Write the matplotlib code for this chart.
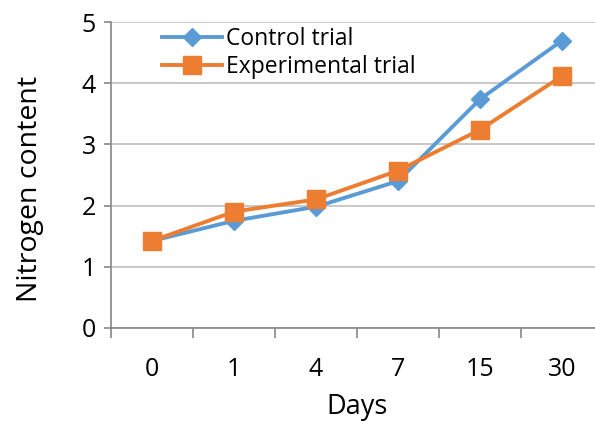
import numpy as np
import matplotlib.pyplot as plt

# data
days = ['0', '1', '4', '7', '15', '30']
control_trial = [1.42, 1.75, 1.98, 2.40, 3.74, 4.70]
experimental_trial = [1.42, 1.90, 2.10, 2.57, 3.24, 4.12]
y_ticks = [0, 1, 2, 3, 4, 5]

blue = '#5B9BD5'
orange = '#ED7D31'
grid_col = '#BFBFBF'
axis_col = '#868686'

plt.rcParams['font.family'] = ['Open Sans', 'DejaVu Sans']

fig = plt.figure(figsize=(5.95, 4.22), dpi=100)
# plot area runs past the right edge, like the reference
ax = fig.add_axes([0.1866, 0.2235, 0.8268, 0.7237])

x = np.arange(len(days))
ax.plot(x, control_trial, color=blue, lw=2.8, marker='D', ms=9,
        label='Control trial', zorder=3)
ax.plot(x, experimental_trial, color=orange, lw=2.8, marker='s', ms=13,
        label='Experimental trial', zorder=4)

ax.set_xlim(-0.5, len(days) - 0.5)
ax.set_ylim(0, 5)
ax.set_yticks(y_ticks)
ax.yaxis.grid(True, color=grid_col, lw=1.2)
ax.set_axisbelow(True)

ax.set_xticks(x)
ax.set_xticklabels(days)
ax.set_xticks(np.arange(-0.5, len(days)), minor=True)
ax.tick_params(axis='x', which='major', length=0, pad=21, labelsize=18)
ax.tick_params(axis='x', which='minor', length=7, width=1.2, color=axis_col)
ax.tick_params(axis='y', length=5, width=1.2, color=axis_col, labelsize=18, pad=6)

for s in ['top', 'right']:
    ax.spines[s].set_visible(False)
for s in ['left', 'bottom']:
    ax.spines[s].set_color(axis_col)
    ax.spines[s].set_linewidth(1.2)

ax.set_xlabel('Days', fontsize=19.5, labelpad=8)
ax.set_ylabel('Nitrogen content', fontsize=20.5, labelpad=27)
ax.yaxis.label.set_y(0.455)  # sits a bit below the axes middle

ax.legend(loc='upper left', bbox_to_anchor=(0.085, 1.015), frameon=False,
          fontsize=16.5, handlelength=2.6, handletextpad=0.2, labelspacing=0.2,
          borderaxespad=0)

fig.savefig('out.png', dpi=100)
